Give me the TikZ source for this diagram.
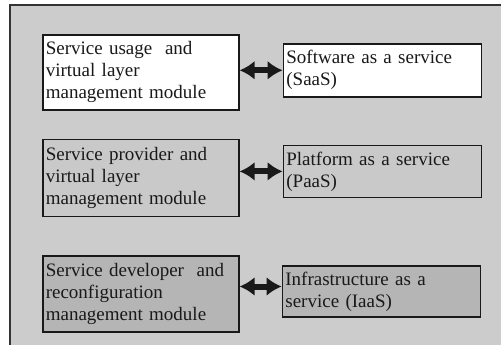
\documentclass[tikz,border=0pt]{standalone}
\usepackage{fontspec}
\setmainfont{Liberation Serif}
\usetikzlibrary{positioning,arrows.meta}
\definecolor{panelgray}{gray}{0.80}
\definecolor{boxgray}{gray}{0.79}
\definecolor{darkgray}{gray}{0.71}
\definecolor{inkgray}{gray}{0.10}

\begin{document}
\begin{tikzpicture}[
  x=1pt, y=-1pt,
  modbox/.style={draw=inkgray, line width=1.6pt, align=left, inner sep=3pt,
    text width=190pt, font=\fontsize{19}{22}\selectfont, text=inkgray},
  layerbox/.style={modbox, text width=192pt, minimum height=52pt},
  biarrow/.style={draw=black, line width=6pt, inkgray,
    {Latex[length=15pt,width=19pt]}-{Latex[length=15pt,width=19pt]}},
]
\useasboundingbox (0,0) rectangle (501,345);
\draw[fill=panelgray, draw=black!80, line width=1.5pt] (10,5) rectangle (520,360);

% management modules
\node[modbox, fill=white, minimum height=75pt, anchor=north west] at (42,34) (usage)
  {Service usage~ and\\virtual layer\\management module};
\node[modbox, fill=boxgray, minimum height=77pt, below=28pt of usage] (provider)
  {Service provider and\\virtual layer\\management module};
\node[modbox, fill=darkgray, minimum height=76pt, below=38pt of provider] (developer)
  {Service developer~ and\\reconfiguration\\management module};

% cloud service layers
\node[layerbox, fill=white, minimum height=53pt, right=43pt of usage, yshift=2pt] (saas)
  {Software as a service\\(SaaS)};
\node[layerbox, fill=boxgray, right=43pt of provider, yshift=6.5pt] (paas)
  {Platform as a service\\(PaaS)};
\node[layerbox, fill=darkgray, minimum height=51pt, right=42pt of developer, yshift=2.5pt] (iaas)
  {Infrastructure as a\\service (IaaS)};

\draw[biarrow] (usage.east |- saas.west) -- (saas.west);
\draw[biarrow] (provider.east |- paas.west) -- (paas.west);
\draw[biarrow] ([yshift=5pt]developer.east |- iaas.west) -- ([yshift=5pt]iaas.west);
\end{tikzpicture}
\end{document}
